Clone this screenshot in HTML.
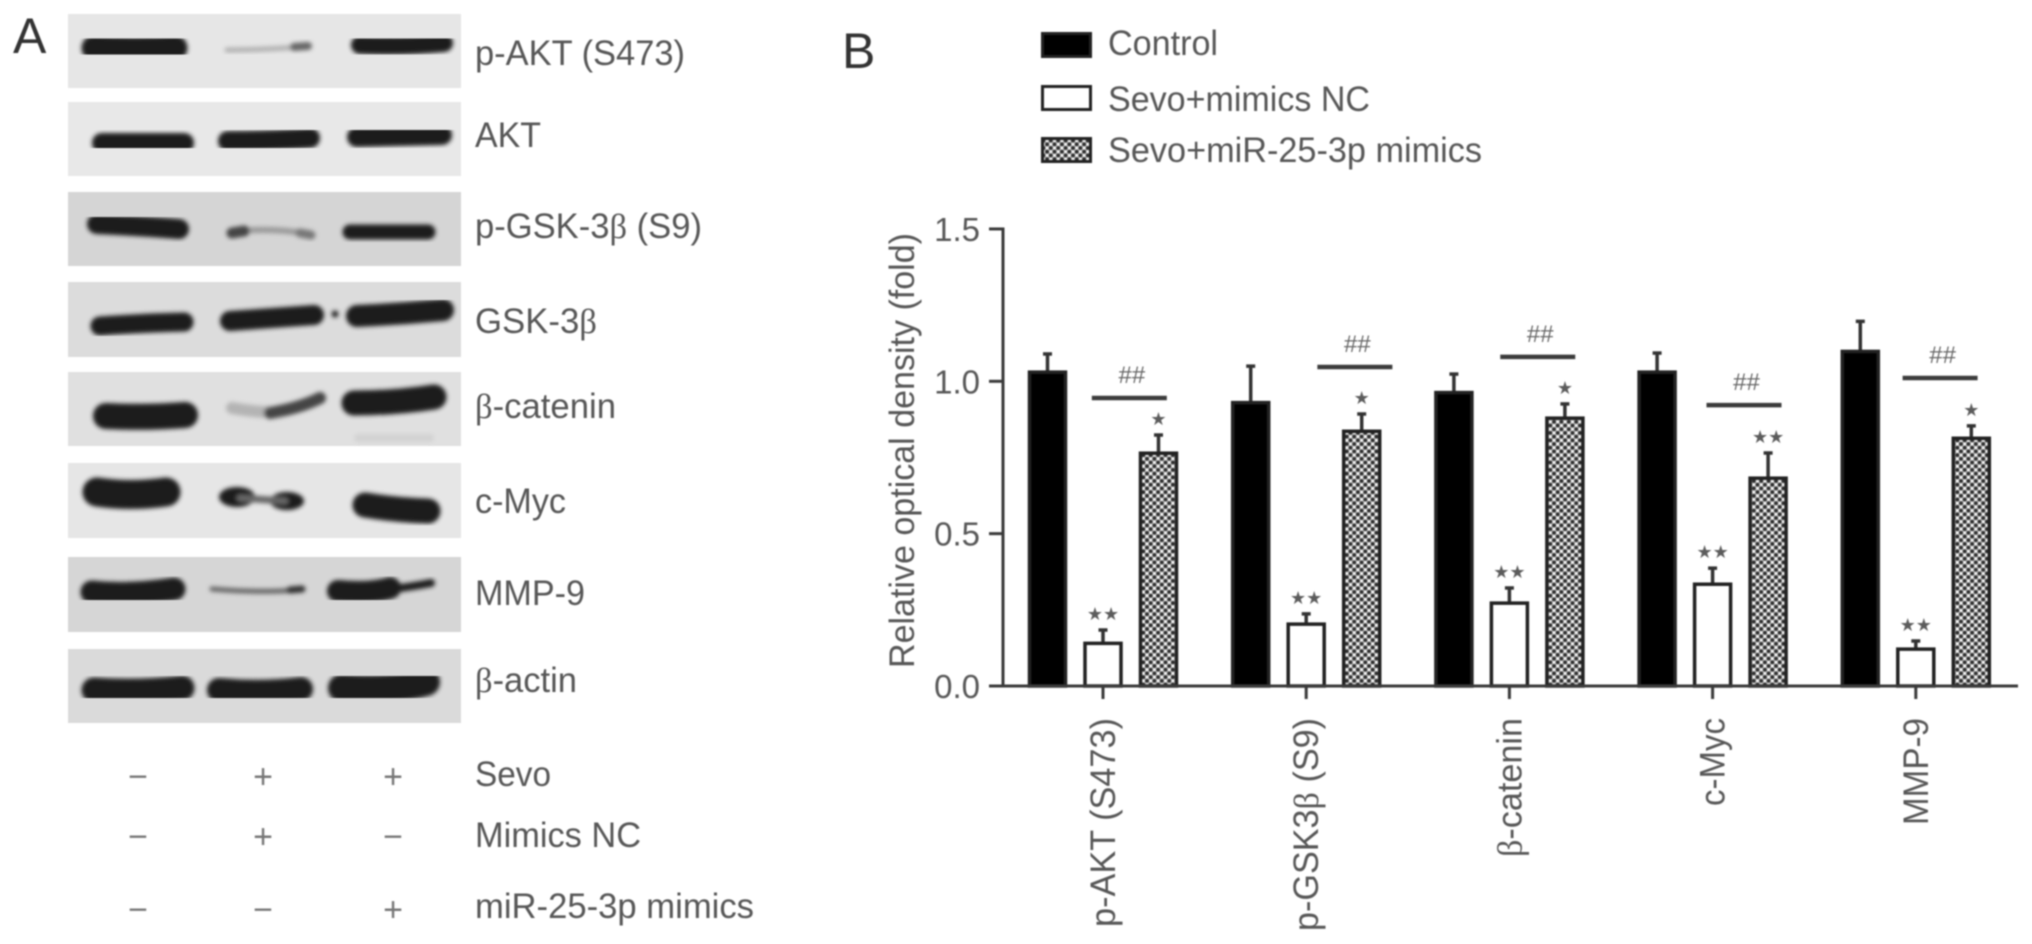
<!DOCTYPE html>
<html lang="en">
<head>
<meta charset="utf-8">
<title>Western blot and relative optical density chart</title>
<style>
html,body{margin:0;padding:0;background:#fff;width:2032px;height:944px;overflow:hidden}
svg{display:block;filter:blur(.7px)}
text{font-family:"Liberation Sans",sans-serif;fill:#575757}
.lbl{font-size:35px}
.beta{font-family:"Liberation Serif",serif}
.band{fill:none;stroke:#1c1c1c;stroke-linecap:round}
</style>
</head>
<body>
<svg id="figure" xmlns="http://www.w3.org/2000/svg" width="2032" height="944" viewBox="0 0 2032 944">
<defs>
<filter id="soft" x="-10%" y="-60%" width="120%" height="220%"><feGaussianBlur stdDeviation="2"/></filter>
<pattern id="checker" width="7.4" height="7.4" patternUnits="userSpaceOnUse">
<rect width="7.4" height="7.4" fill="#b0b0b0"/>
<circle cx="0" cy="0" r="1.9" fill="#2c2c2c"/><circle cx="7.4" cy="0" r="1.9" fill="#2c2c2c"/>
<circle cx="0" cy="7.4" r="1.9" fill="#2c2c2c"/><circle cx="7.4" cy="7.4" r="1.9" fill="#2c2c2c"/>
<circle cx="3.7" cy="3.7" r="1.9" fill="#2c2c2c"/>
<circle cx="3.7" cy="0" r="1.5" fill="#f6f6f6"/><circle cx="3.7" cy="7.4" r="1.5" fill="#f6f6f6"/>
<circle cx="0" cy="3.7" r="1.5" fill="#f6f6f6"/><circle cx="7.4" cy="3.7" r="1.5" fill="#f6f6f6"/>
</pattern>
</defs>

<text x="13" y="53" font-size="50" style="fill:#333">A</text>
<text x="842" y="68" font-size="50" style="fill:#333">B</text>

<g>
<g>
<rect x="68" y="14" width="393" height="74" fill="#e6e6e6"/>
<g filter="url(#soft)">
<path class="band" stroke-width="25" d="M94 48 Q135 51 175 48"/>
<path class="band" stroke-width="5" style="stroke:#b0b0b0" d="M227 50 Q260 50 300 47"/>
<path class="band" stroke-width="8" style="stroke:#666" d="M294 47 L308 46"/>
<path class="band" stroke-width="18" d="M360 45 Q400 47 444 43"/>
</g></g>
<g>
<rect x="68" y="102" width="393" height="74" fill="#e8e8e8"/>
<g filter="url(#soft)">
<path class="band" stroke-width="20" d="M102 143 L184 143"/>
<path class="band" stroke-width="20" d="M228 141 Q270 141 310 138"/>
<path class="band" stroke-width="20" d="M357 137 Q400 136 442 135"/>
</g></g>
<g>
<rect x="68" y="192" width="393" height="74" fill="#d5d5d5"/>
<g filter="url(#soft)">
<path class="band" stroke-width="20" d="M97 224 Q140 226 179 229"/>
<path class="band" stroke-width="6" style="stroke:#999" d="M232 232 Q270 227 308 234"/>
<path class="band" stroke-width="11" style="stroke:#444" d="M232 233 L244 231"/>
<path class="band" stroke-width="9" style="stroke:#777" d="M300 233 L311 235"/>
<path class="band" stroke-width="15" d="M350 232 L428 232"/>
</g></g>
<g>
<rect x="68" y="282" width="393" height="75" fill="#dcdcdc"/>
<g filter="url(#soft)">
<path class="band" stroke-width="19" d="M100 326 Q140 323 184 322"/>
<path class="band" stroke-width="20" d="M230 321 Q270 318 314 315"/>
<path class="band" stroke-width="22" d="M357 316 Q400 314 443 310"/>
<circle cx="335" cy="314" r="3.5" fill="#222"/>
</g></g>
<g>
<rect x="68" y="372" width="393" height="74" fill="#e0e0e0"/>
<g filter="url(#soft)">
<path class="band" stroke-width="26" d="M106 416 Q145 418 185 415"/>
<path class="band" stroke-width="12" style="stroke:#b4b4b4" d="M232 408 Q260 413 280 412"/>
<path class="band" stroke-width="12" style="stroke:#444" d="M270 413 Q300 408 320 398"/>
<path class="band" stroke-width="25" d="M354 403 Q395 403 434 397"/>
<path class="band" stroke-width="8" style="stroke:#d2d2d2" d="M358 438 L430 438"/>
</g></g>
<g>
<rect x="68" y="463" width="393" height="75" fill="#e6e6e6"/>
<g filter="url(#soft)">
<path class="band" stroke-width="29" d="M97 492 Q130 497 166 492"/>
<ellipse cx="237" cy="497" rx="18" ry="10" fill="#1c1c1c"/>
<ellipse cx="287" cy="501" rx="17" ry="9" fill="#1c1c1c"/>
<path class="band" stroke-width="7" style="stroke:#666" d="M240 498 L285 501"/>
<path class="band" stroke-width="25" d="M365 505 Q395 510 428 511"/>
</g></g>
<g>
<rect x="68" y="557" width="393" height="75" fill="#d6d6d6"/>
<g filter="url(#soft)">
<path class="band" stroke-width="23" d="M92 592 Q130 596 174 589"/>
<path class="band" stroke-width="5" style="stroke:#666" d="M212 589 Q260 593 296 590"/>
<path class="band" stroke-width="7" style="stroke:#333" d="M290 590 L302 589"/>
<path class="band" stroke-width="22" d="M338 591 Q370 594 390 588"/>
<path class="band" stroke-width="8" d="M385 590 Q410 587 431 583"/>
</g></g>
<g>
<rect x="68" y="649" width="393" height="74" fill="#dadada"/>
<g filter="url(#soft)">
<path class="band" stroke-width="25" d="M94 690 Q140 693 182 688"/>
<path class="band" stroke-width="24" d="M219 690 Q260 694 301 689"/>
<path class="band" stroke-width="28" d="M342 688 Q390 692 426 682"/>
</g></g>
</g>

<g>
<text class="lbl" x="475" y="65" textLength="210" lengthAdjust="spacingAndGlyphs">p-AKT (S473)</text>
<text class="lbl" x="475" y="147" textLength="66" lengthAdjust="spacingAndGlyphs">AKT</text>
<text class="lbl" x="475" y="238" textLength="227" lengthAdjust="spacingAndGlyphs">p-GSK-3<tspan class="beta">β</tspan> (S9)</text>
<text class="lbl" x="475" y="333" textLength="122" lengthAdjust="spacingAndGlyphs">GSK-3<tspan class="beta">β</tspan></text>
<text class="lbl" x="475" y="418" textLength="141" lengthAdjust="spacingAndGlyphs"><tspan class="beta">β</tspan>-catenin</text>
<text class="lbl" x="475" y="513" textLength="91" lengthAdjust="spacingAndGlyphs">c-Myc</text>
<text class="lbl" x="475" y="605" textLength="110" lengthAdjust="spacingAndGlyphs">MMP-9</text>
<text class="lbl" x="475" y="692" textLength="102" lengthAdjust="spacingAndGlyphs"><tspan class="beta">β</tspan>-actin</text>
<text class="lbl" x="475" y="786" textLength="76" lengthAdjust="spacingAndGlyphs">Sevo</text>
<text class="lbl" x="475" y="847" textLength="166" lengthAdjust="spacingAndGlyphs">Mimics NC</text>
<text class="lbl" x="475" y="918" textLength="279" lengthAdjust="spacingAndGlyphs">miR-25-3p mimics</text>
</g>

<g font-size="34" text-anchor="middle" style="font-weight:normal">
<text x="138" y="788" style="fill:#777">−</text>
<text x="263" y="788" style="fill:#777">+</text>
<text x="393" y="788" style="fill:#777">+</text>
<text x="138" y="848" style="fill:#777">−</text>
<text x="263" y="848" style="fill:#777">+</text>
<text x="393" y="848" style="fill:#777">−</text>
<text x="138" y="921" style="fill:#777">−</text>
<text x="263" y="921" style="fill:#777">−</text>
<text x="393" y="921" style="fill:#777">+</text>
</g>

<g>
<g>
<rect x="1042.5" y="33.5" width="48" height="23" fill="#000" stroke="#222" stroke-width="3"/>
<text class="lbl" x="1108" y="55" textLength="110" lengthAdjust="spacingAndGlyphs">Control</text>
</g>
<g>
<rect x="1042.5" y="86.5" width="48" height="23" fill="#fff" stroke="#222" stroke-width="3"/>
<text class="lbl" x="1108" y="111" textLength="262" lengthAdjust="spacingAndGlyphs">Sevo+mimics NC</text>
</g>
<g>
<rect x="1042.5" y="138.5" width="48" height="23" fill="url(#checker)" stroke="#222" stroke-width="3"/>
<text class="lbl" x="1108" y="162" textLength="374" lengthAdjust="spacingAndGlyphs">Sevo+miR-25-3p mimics</text>
</g>
</g>

<g id="chart"></g>
</svg>

<script>
var categories = ['p-AKT (S473)', 'p-GSK3β (S9)', 'β-catenin', 'c-Myc', 'MMP-9'];
var yTickLabels = ['0.0', '0.5', '1.0', '1.5'];
var controlValues = [1.030, 0.930, 0.963, 1.030, 1.098];
var controlUpper = [1.093, 1.053, 1.027, 1.096, 1.200];
var nctrlValues = [0.140, 0.203, 0.272, 0.334, 0.121];
var nctrlUpper = [0.187, 0.240, 0.325, 0.390, 0.151];
var mimicValues = [0.764, 0.836, 0.879, 0.682, 0.813];
var mimicUpper = [0.827, 0.896, 0.929, 0.768, 0.857];
var nctrlStars = ['★★', '★★', '★★', '★★', '★★'];
var mimicStars = ['★', '★', '★', '★★', '★'];
var bracketValues = [0.945, 1.047, 1.080, 0.922, 1.011];
var bracketShift = [-0.055, 0.055, -0.045, -0.03, -0.065];
var hashMarks = ['##', '##', '##', '##', '##'];

var SVGNS = 'http://www.w3.org/2000/svg';
var chart = document.getElementById('chart');
var Y0 = 686, PX_PER_UNIT = 304.7;
var X0 = 1103, BAND = 203.2, BAR_OFFSET = 55.5, BAR_HALF = 18;

function yScale(v) { return Y0 - v * PX_PER_UNIT; }
function xScale(i) { return X0 + i * BAND; }

function make(tag, attrs, parent, txt) {
  var el = document.createElementNS(SVGNS, tag);
  for (var k in attrs) el.setAttribute(k, attrs[k]);
  if (txt !== undefined) el.textContent = txt;
  (parent || chart).appendChild(el);
  return el;
}

var axisColor = '#3a3a3a';
var el;

el = make('line', {x1: 1003, x2: 1003, y1: yScale(1.5) - 1.5, y2: Y0 + 1.5, stroke: axisColor, 'stroke-width': 3});



yTickLabels.forEach(function (t) {
  var v = parseFloat(t);
  var tick = make('line', {x1: 989, x2: 1003, y1: yScale(v), y2: yScale(v), stroke: axisColor, 'stroke-width': 3});
  
  
  var lab = make('text', {x: 980, y: yScale(v) + 12, 'text-anchor': 'end', 'font-size': 33}, chart, t);
  
  
});

el = make('text', {transform: 'translate(914 668) rotate(-90)', 'font-size': 35, textLength: 435, lengthAdjust: 'spacingAndGlyphs'}, chart, 'Relative optical density (fold)');



function drawBar(i, offset, value, upper, fill, seriesName) {
  var cx = xScale(i) + offset;
  var err = make('line', {x1: cx, x2: cx, y1: yScale(value), y2: yScale(upper), stroke: '#333', 'stroke-width': 3.5});
  
  
  var cap = make('line', {x1: cx - 4.5, x2: cx + 4.5, y1: yScale(upper) + 1, y2: yScale(upper) + 1, stroke: '#333', 'stroke-width': 3.5});
  
  
  var bar = make('rect', {x: cx - BAR_HALF, y: yScale(value), width: BAR_HALF * 2, height: Y0 - yScale(value), fill: fill, stroke: '#222', 'stroke-width': 3.5});
  
  
}

function drawStars(i, offset, upper, stars) {
  var s = make('text', {x: xScale(i) + offset, y: yScale(upper) - 9, 'text-anchor': 'middle', 'font-size': 18, style: 'font-family:"DejaVu Sans",sans-serif;fill:#5c5c5c'}, chart, stars);
  
  
}

categories.forEach(function (name, i) {
  drawBar(i, -BAR_OFFSET, controlValues[i], controlUpper[i], '#000', 'bar-control');
  drawBar(i, 0, nctrlValues[i], nctrlUpper[i], '#fff', 'bar-sevo-mimics-nc');
  drawBar(i, BAR_OFFSET, mimicValues[i], mimicUpper[i], 'url(#checker)', 'bar-sevo-mir-mimics');
  drawStars(i, 0, nctrlUpper[i], nctrlStars[i]);
  drawStars(i, BAR_OFFSET, mimicUpper[i], mimicStars[i]);

  var bx = xScale(i) + bracketShift[i] * BAND;
  var bracket = make('line', {x1: bx, x2: bx + 75, y1: yScale(bracketValues[i]), y2: yScale(bracketValues[i]), stroke: '#3c3c3c', 'stroke-width': 4.5});
  
  
  var hash = make('text', {x: bx + 40, y: yScale(bracketValues[i]) - 15, 'text-anchor': 'middle', 'font-size': 24, style: 'fill:#666'}, chart, hashMarks[i]);
  
  

  var tick = make('line', {x1: xScale(i), x2: xScale(i), y1: Y0, y2: Y0 + 13, stroke: axisColor, 'stroke-width': 3});
  
  
});

el = make('line', {x1: 989, x2: 2018, y1: Y0, y2: Y0, stroke: axisColor, 'stroke-width': 3});



var xLabelLengths = [209, 213, 139, 88, 107];
categories.forEach(function (name, i) {
  var t = make('text', {transform: 'translate(' + (xScale(i) + 12) + ' 718) rotate(-90)', 'text-anchor': 'end', 'font-size': 35, textLength: xLabelLengths[i], lengthAdjust: 'spacingAndGlyphs'});
  
  
  name.split('β').forEach(function (part, j) {
    if (j > 0) {
      var b = make('tspan', {'class': 'beta'}, t, 'β');
      
      
    }
    if (part) t.appendChild(document.createTextNode(part));
  });
});
</script>
</body>
</html>
